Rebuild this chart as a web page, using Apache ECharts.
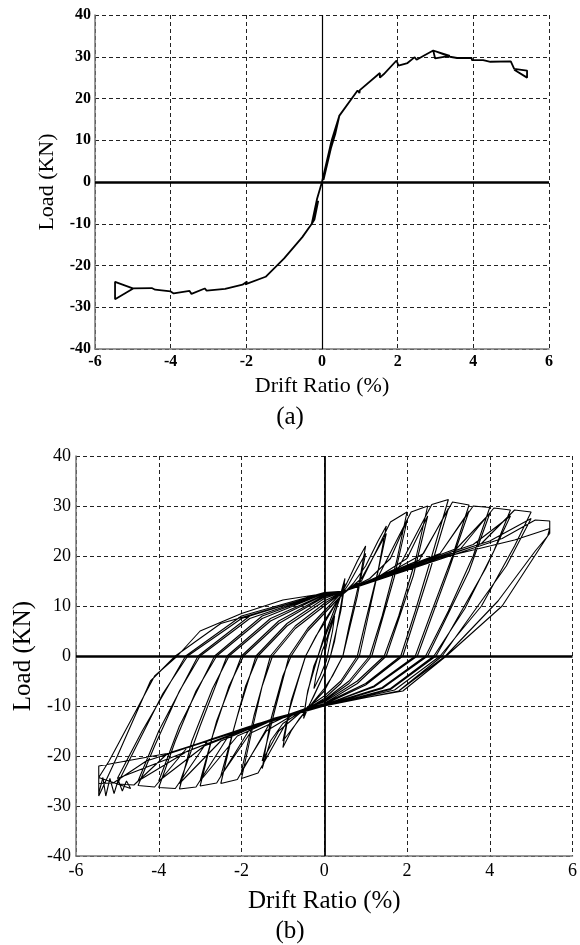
<!DOCTYPE html>
<html>
<head>
<meta charset="utf-8">
<script src="https://cdn.jsdelivr.net/npm/echarts@6/dist/echarts.min.js"></script>
<style>
  html, body { margin: 0; padding: 0; background: #fff; }
  #main { width: 580px; height: 945px; }
</style>
</head>
<body>
<div id="main"></div>
<script>
// axis ticks
var driftTicks = [-6, -4, -2, 0, 2, 4, 6];
var loadTicks = [-40, -30, -20, -10, 0, 10, 20, 30, 40];

// (a) envelope curve [drift %, load kN]
var envPos = [[0,0],[0.25,9.8],[0.46,15.9],[0.35,11.5],[0.2,7],[0.04,0.5],[0.3,10.5],[0.46,15.9],[0.94,21.9],[0.99,21.3],[1.0,22],
  [1.53,26.1],[1.53,25.0],[1.63,25.8],[1.97,29.1],[2.02,27.9],[2.26,28.5],[2.45,29.9],[2.5,29.3],[2.7,30.3],[2.94,31.5],
  [2.99,29.6],[3.38,30.2],[2.94,31.5],[3.38,30.0],[3.57,29.7],[3.96,29.7],[3.96,29.2],[4.26,29.2],[4.45,28.8],[4.99,28.9],
  [5.08,27.1],[5.42,26.7],[5.42,25.0],[5.08,26.9]];
var envNeg = [[0,0],[-0.13,-4],[-0.27,-10],[-0.2,-9],[-0.1,-4.5],[-0.27,-10],[-0.52,-13.2],[-1.0,-18.3],[-1.49,-22.7],
  [-2.03,-24.5],[-1.98,-23.8],[-2.1,-24.6],[-2.56,-25.6],[-2.6,-25.2],[-3.05,-26.0],[-3.1,-25.5],[-3.45,-26.8],[-3.5,-26.1],
  [-3.92,-26.7],[-4.0,-26.2],[-4.41,-25.8],[-4.5,-25.4],[-5.0,-25.5],[-5.47,-23.9],[-5.47,-28.1],[-4.99,-25.5],[-4.6,-25.5]];

// (b) hysteresis loops, one array per drift amplitude
var loop025 = [[0,0],[0.1,4],[0.25,8],[0.2,5],[0.05,-1],[0,-2],[-0.1,-4],[-0.25,-6.5],[-0.2,-4],[-0.05,1],[0,2]];
var loop05 = [[0,2],[0.2,7],[0.35,11],[0.5,15.5],[0.42,11],[0.25,3],[0.15,0],[0,-3.5],[-0.2,-7],[-0.4,-10.5],[-0.5,-12.5],
  [-0.42,-8],[-0.25,-2],[-0.15,0],[0,3.5],
  [0.25,8.5],[0.5,14.5],[0.4,9],[0.15,0],[0,-3.5],[-0.25,-8],[-0.5,-12],[-0.4,-7],[-0.15,0],[0,4]];
var loop10 = [[0,4],[0.3,10.5],[0.6,15.5],[0.8,19],[1.0,22],[0.85,15],[0.6,6],[0.45,0],[0.2,-4],[0,-6.5],[-0.3,-9.5],
  [-0.6,-12.5],[-0.8,-15],[-1.0,-18.3],[-0.85,-11],[-0.6,-4],[-0.45,0],[-0.2,4],[0,6.5],
  [0.3,10.8],[0.6,14.5],[1.0,20.5],[0.8,12],[0.45,0],[0,-7],[-0.4,-10.5],[-1.0,-17],[-0.8,-9],[-0.45,0],[0,7]];
var loop15 = [[0,7],[0.35,11.5],[0.7,14.5],[1.0,18],[1.3,23],[1.5,26],[1.3,17],[1.0,7],[0.8,0],[0.4,-5],[0,-8],[-0.5,-10.8],
  [-1.0,-13.5],[-1.3,-17],[-1.5,-22.5],[-1.3,-13],[-1.0,-4],[-0.8,0],[-0.4,5],[0,8.5],
  [0.4,12],[0.9,15.5],[1.5,24.5],[1.25,15],[0.85,0],[0.4,-5.5],[0,-8.5],[-0.6,-11.5],[-1.1,-15],[-1.5,-21],[-1.2,-11],
  [-0.85,0],[-0.4,5.5],[0,9]];
var loop20 = [[0,9],[0.4,12.5],[0.9,15],[1.6,26.8],[2.0,28.8],[1.75,19],[1.4,8],[1.1,0],[0.6,-5],[0,-8.8],[-0.6,-11],
  [-0.8,-11.6],[-1.6,-23.4],[-2.0,-24.5],[-1.75,-15],[-1.5,-6],[-1.25,0],[-0.7,5.5],[0,10],
  [0.45,12.8],[1.1,15.5],[1.6,19.5],[2.0,27],[1.7,16],[1.15,0],[0.6,-5.5],[0,-9],[-0.7,-11.5],[-1.4,-15],[-2.0,-23],
  [-1.7,-12],[-1.3,0],[-0.7,6],[0,10.5]];
var loop25 = [[0,10.5],[0.45,12.8],[1.3,15.8],[2.1,28.8],[2.5,30],[2.2,19],[1.8,8],[1.45,0],[0.8,-5],[0,-9.2],[-0.8,-11.5],
  [-1.3,-13.2],[-2.1,-24.7],[-2.5,-25.5],[-2.2,-15],[-1.9,-6],[-1.6,0],[-0.9,6],[0,11],
  [0.5,13],[1.3,15.8],[2.0,19.5],[2.5,28],[2.15,16],[1.5,0],[0.8,-5.5],[0,-9.5],[-0.9,-12],[-1.8,-15.5],[-2.5,-24],
  [-2.1,-12],[-1.65,0],[-0.9,6.5],[0,11.5]];
var loop30 = [[0,11.5],[0.5,13],[1.8,17.7],[2.6,30.3],[3.0,31.3],[2.6,20],[2.2,9],[1.85,0],[1.0,-5.5],[0,-9.5],[-1.0,-12],
  [-1.8,-14.6],[-2.6,-25.4],[-3.0,-26],[-2.7,-16],[-2.3,-6],[-1.95,0],[-1.1,6.5],[0,11.8],
  [0.5,13],[1.6,16.8],[2.4,20.5],[3.0,29.5],[2.55,17],[1.9,0],[1.0,-5.8],[0,-9.7],[-1.1,-12.3],[-2.1,-16],[-3.0,-25],
  [-2.6,-13],[-2.0,0],[-1.1,7],[0,12]];
var loop35 = [[0,12],[0.5,13],[2.3,19.2],[3.1,30.8],[3.5,30.2],[3.1,20],[2.6,9],[2.2,0],[1.2,-6],[0,-9.8],[-1.2,-12.4],
  [-2.3,-15.8],[-3.1,-26.2],[-3.5,-26.6],[-3.2,-17],[-2.7,-6.5],[-2.3,0],[-1.3,7],[0,12.2],
  [0.5,13],[1.7,17],[2.8,20.5],[3.5,29],[3.0,17],[2.25,0],[1.2,-6.2],[0,-9.8],[-1.3,-12.8],[-2.5,-17],[-3.5,-25.5],
  [-3.0,-14],[-2.35,0],[-1.3,7.5],[0,12.3]];
var loop40 = [[0,12.3],[0.5,13],[2.8,20.5],[3.6,30],[4.0,29.7],[3.6,20],[3.0,9],[2.45,0],[1.4,-6.3],[0,-9.8],[-1.4,-13],
  [-2.8,-16.8],[-3.6,-26.5],[-4.0,-26.3],[-3.6,-17],[-3.1,-7],[-2.6,0],[-1.5,7.5],[0,12.5],
  [0.5,13],[2.0,17.8],[3.2,21.5],[4.0,28.5],[3.5,17],[2.5,0],[1.4,-6.5],[0,-10],[-1.5,-13.4],[-2.9,-18],[-4.0,-25],
  [-3.5,-14],[-2.65,0],[-1.5,8],[0,12.5]];
var loop45 = [[0,12.5],[0.5,13],[3.3,21.5],[4.1,29.6],[4.5,29.2],[4.1,21],[3.4,9.5],[2.65,0],[1.6,-6.5],[0,-10],[-1.6,-13.5],
  [-3.3,-18.2],[-4.1,-26.2],[-4.5,-25.9],[-4.1,-18],[-3.5,-7],[-3.0,0],[-1.8,7.5],[0,12.6],
  [0.5,13],[2.2,18.3],[3.6,22.3],[4.5,28],[3.9,17.5],[2.7,0],[1.6,-6.7],[0,-10],[-1.7,-14],[-3.3,-19],[-4.5,-25],
  [-4.0,-15],[-3.05,0],[-1.8,8],[0,12.6]];
var loop50 = [[0,12.6],[0.5,13],[3.8,22.5],[4.6,29.2],[5.0,28.8],[4.6,22],[3.8,10],[2.8,0],[1.7,-6.8],[0,-10],[-1.7,-14],
  [-3.8,-19.6],[-4.6,-25.8],[-5.0,-25.6],[-4.6,-19],[-3.9,-7.5],[-3.3,0],[-2.0,7.5],[0,12.6],
  [0.5,13],[2.5,19],[4.0,23],[5.0,27.5],[4.4,18],[2.85,0],[1.8,-7],[0,-10],[-1.8,-14.3],[-3.6,-20],[-5.0,-24.5],
  [-4.4,-15],[-3.35,0],[-2.0,8],[0,12.7]];
var loop55 = [[0,12.7],[0.5,13],[4.3,23.5],[5.1,27.2],[5.45,27],[5.45,24.5],[5.1,21],[4.2,11],[2.93,0],[1.8,-7],[0,-10],
  [-1.8,-14.3],[-4.3,-21],[-5.1,-25.4],[-5.45,-25.5],[-5.45,-22.5],[-5.45,-27.5],[-5.35,-24.3],[-5.28,-28],[-5.18,-24.5],
  [-5.08,-27.5],[-4.98,-24.8],[-4.88,-27],[-4.78,-25],[-4.68,-26.5],[-5.45,-24.3],[-5.2,-21],[-4.1,-4],[-3.55,0],
  [-3.0,5],[-2.0,8.5],[-1.0,11.2],[0,12.5],
  [0.5,13],[2.8,19.6],[4.6,23.2],[5.45,25.5],[5.4,24],[4.3,10],[2.95,0],[1.9,-7],[0,-9.8],[-1.9,-14.5],[-3.8,-19.5],
  [-5.45,-22],[-5.45,-28],[-5.0,-20],[-4.2,-5],[-3.6,0],[-2.5,6.5],[0,12.5]];

var loopsB = [].concat(loop025, loop05, loop10, loop15, loop20, loop25, loop30, loop35, loop40, loop45, loop50, loop55);

var serif = 'Liberation Serif';

function xAx(idx, fs, fw, nameFs, gap, margin) {
  return {
    gridIndex: idx, type: 'value',
    min: driftTicks[0], max: driftTicks[driftTicks.length - 1], interval: driftTicks[1] - driftTicks[0],
    name: 'Drift Ratio (%)', nameLocation: 'middle', nameGap: gap,
    nameTextStyle: { fontFamily: serif, fontSize: nameFs, color: '#000' },
    axisLine: { onZero: false, lineStyle: { color: '#777', width: 1.5 } },
    axisTick: { show: false },
    axisLabel: { fontFamily: serif, fontSize: fs, fontWeight: fw, color: '#000', margin: margin },
    splitLine: { show: true, lineStyle: { color: '#222', type: [4, 3], width: 1 } }
  };
}
function yAx(idx, fs, fw, nameFs, gap, margin) {
  return {
    gridIndex: idx, type: 'value',
    min: loadTicks[0], max: loadTicks[loadTicks.length - 1], interval: loadTicks[1] - loadTicks[0],
    name: 'Load (KN)', nameLocation: 'middle', nameGap: gap,
    nameTextStyle: { fontFamily: serif, fontSize: nameFs, color: '#000' },
    axisLine: { onZero: false, lineStyle: { color: '#777', width: 1.5 } },
    axisTick: { show: false },
    axisLabel: { fontFamily: serif, fontSize: fs, fontWeight: fw, color: '#000', margin: margin },
    splitLine: { show: true, lineStyle: { color: '#222', type: [4, 3], width: 1 } }
  };
}
function zeroLines(hw, vw) {
  return {
    silent: true, symbol: ['none', 'none'], label: { show: false },
    lineStyle: { color: '#000', type: 'solid' },
    data: [
      { yAxis: 0, lineStyle: { width: hw, color: '#000', type: 'solid' } },
      { xAxis: 0, lineStyle: { width: vw, color: '#000', type: 'solid' } }
    ]
  };
}

var chart = echarts.init(document.getElementById('main'), null, { renderer: 'canvas' });
chart.setOption({
  animation: false,
  backgroundColor: '#fff',
  grid: [
    { left: 95, top: 15, width: 454, height: 334 },
    { left: 76, top: 456, width: 498, height: 400 }
  ],
  xAxis: [xAx(0, 16, 'bold', 22, 26, 5), xAx(1, 18, 'normal', 25, 33, 6)],
  yAxis: [yAx(0, 16, 'bold', 22, 37, 4), yAx(1, 18, 'normal', 25, 38, 5)],
  graphic: [
    { type: 'text', x: 290, y: 417, style: { text: '(a)', font: '25px "Liberation Serif"', fill: '#000', textAlign: 'center', textVerticalAlign: 'middle' } },
    { type: 'text', x: 290, y: 931, style: { text: '(b)', font: '25px "Liberation Serif"', fill: '#000', textAlign: 'center', textVerticalAlign: 'middle' } }
  ],
  series: [
    { type: 'line', xAxisIndex: 0, yAxisIndex: 0, data: envPos, showSymbol: false,
      lineStyle: { color: '#000', width: 1.8 }, markLine: zeroLines(2.5, 1.2) },
    { type: 'line', xAxisIndex: 0, yAxisIndex: 0, data: envNeg, showSymbol: false,
      lineStyle: { color: '#000', width: 1.8 } },
    { type: 'line', xAxisIndex: 1, yAxisIndex: 1, data: loopsB, showSymbol: false,
      lineStyle: { color: '#000', width: 1.1 }, markLine: zeroLines(2.5, 1.8) }
  ]
});
</script>
</body>
</html>
